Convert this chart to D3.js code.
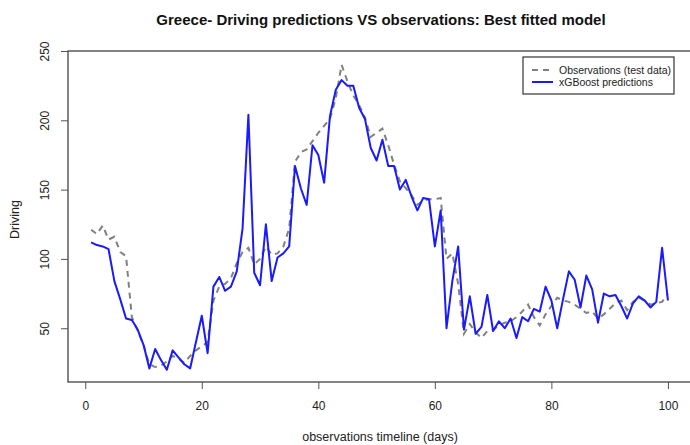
<!DOCTYPE html>
<html>
<head>
<meta charset="utf-8">
<script src="https://cdn.jsdelivr.net/npm/d3@7"></script>
<style>
  html, body { margin: 0; padding: 0; background: #fff; }
  svg { display: block; font-family: "Liberation Sans", Arial, sans-serif; }
</style>
</head>
<body>
<svg id="chart" width="690" height="445"></svg>
<script>
const days = d3.range(1, 101);

const observations = [
  121, 118, 124, 114, 116, 105, 102, 58, 48, 38,
  24, 22, 23, 26, 30, 28, 25, 30, 34, 37,
  40, 70, 80, 82, 86, 97, 105, 108, 96, 100,
  109, 103, 104, 109, 122, 170, 177, 179, 185, 191,
  196, 201, 216, 240, 228, 218, 211, 202, 188, 191,
  194, 182, 168, 156, 151, 146, 139, 142, 143, 143,
  144, 100, 104, 82, 46, 53, 47, 43, 48, 49,
  52, 54, 55, 58, 62, 67, 58, 52, 60, 66,
  72, 70, 69, 67, 64, 61, 62, 57, 60, 64,
  68, 70, 63, 69, 72, 70, 67, 68, 69, 75
];

const predictions = [
  112, 110, 109, 107, 84, 71, 57, 56, 49, 38,
  21, 35, 27, 20, 34, 29, 24, 21, 40, 59,
  32, 80, 87, 77, 80, 91, 122, 204, 90, 81,
  125, 84, 101, 104, 109, 167, 151, 139, 182, 175,
  155, 203, 222, 229, 225, 225, 209, 201, 180, 171,
  186, 167, 167, 150, 157, 145, 135, 144, 143, 109,
  135, 50, 84, 109, 49, 73, 46, 51, 74, 48,
  55, 50, 57, 43, 58, 55, 64, 62, 80, 70,
  50, 71, 91, 85, 65, 88, 78, 54, 75, 73,
  74, 66, 57, 68, 73, 70, 65, 69, 108, 70
];

const xTicks = [0, 20, 40, 60, 80, 100];
const yTicks = [50, 100, 150, 200, 250];

const titleText = "Greece- Driving predictions VS observations: Best fitted model";
const xLabel = "observations timeline (days)";
const yLabel = "Driving";
const seriesNames = ["Observations (test data)", "xGBoost predictions"];

const svg = d3.select("#chart");
const pLeft = 68, pTop = 51, pRight = 691, pBottom = 382;

const x = d3.scaleLinear().domain([-2.96, 103.96]).range([pLeft, pRight]);
const y = d3.scaleLinear().domain([11.2, 250]).range([pBottom, pTop]);

const lineGen = (vals) => d3.line()
  .x((d, i) => x(days[i]))
  .y(d => y(d))(vals);

svg.append("path")
  .attr("d", lineGen(observations))
  .attr("fill", "none")
  .attr("stroke", "#808080")
  .attr("stroke-width", 2)
  .attr("stroke-dasharray", "6,5");

svg.append("path")
  .attr("d", lineGen(predictions))
  .attr("fill", "none")
  .attr("stroke", "#1a1aff")
  .attr("stroke-width", 2)
  .attr("stroke-linejoin", "round");

svg.append("rect")
  .attr("x", pLeft).attr("y", pTop)
  .attr("width", pRight - pLeft).attr("height", pBottom - pTop)
  .attr("fill", "none").attr("stroke", "#333").attr("stroke-width", 1.2);

const xAxis = svg.append("g")
  .attr("transform", `translate(0,${pBottom})`)
  .call(d3.axisBottom(x).tickValues(xTicks).tickSize(7).tickPadding(12).tickFormat(d3.format("d")));
xAxis.select(".domain").remove();
xAxis.selectAll("line").attr("stroke", "#555");
xAxis.selectAll("text").attr("font-size", 12).attr("fill", "#222")
  .attr("font-family", "Liberation Sans, Arial, sans-serif");

const yAxis = svg.append("g")
  .attr("transform", `translate(${pLeft},0)`)
  .call(d3.axisLeft(y).tickValues(yTicks).tickSize(7).tickFormat(d3.format("d")));
yAxis.select(".domain").remove();
yAxis.selectAll("line").attr("stroke", "#555");
yAxis.selectAll("text")
  .attr("font-size", 12).attr("fill", "#222")
  .attr("font-family", "Liberation Sans, Arial, sans-serif")
  .attr("text-anchor", "middle")
  .attr("x", null).attr("dy", null)
  .attr("transform", "translate(-19,0) rotate(-90)");

svg.append("text")
  .attr("x", 381).attr("y", 25)
  .attr("text-anchor", "middle")
  .attr("font-size", 15).attr("font-weight", "bold").attr("fill", "#111")
  .text(titleText);

svg.append("text")
  .attr("x", 380).attr("y", 441)
  .attr("text-anchor", "middle")
  .attr("font-size", 12.5).attr("fill", "#222")
  .text(xLabel);

svg.append("text")
  .attr("transform", `translate(19,${(pTop + pBottom) / 2 + 3}) rotate(-90)`)
  .attr("text-anchor", "middle")
  .attr("font-size", 12.5).attr("fill", "#222")
  .text(yLabel);

const lg = svg.append("g");
lg.append("rect")
  .attr("x", 523).attr("y", 57).attr("width", 151).attr("height", 37)
  .attr("fill", "#fff").attr("stroke", "#333").attr("stroke-width", 1.2);
const legendStyles = [
  { stroke: "#808080", dash: "6,5" },
  { stroke: "#1a1aff", dash: null }
];
seriesNames.forEach((name, i) => {
  const yy = 70 + i * 12;
  lg.append("line")
    .attr("x1", 532).attr("x2", 553).attr("y1", yy).attr("y2", yy)
    .attr("stroke", legendStyles[i].stroke).attr("stroke-width", 2)
    .attr("stroke-dasharray", legendStyles[i].dash);
  lg.append("text")
    .attr("x", 559).attr("y", yy + 3.5)
    .attr("font-size", 10.5).attr("fill", "#222")
    .text(name);
});
</script>
</body>
</html>
